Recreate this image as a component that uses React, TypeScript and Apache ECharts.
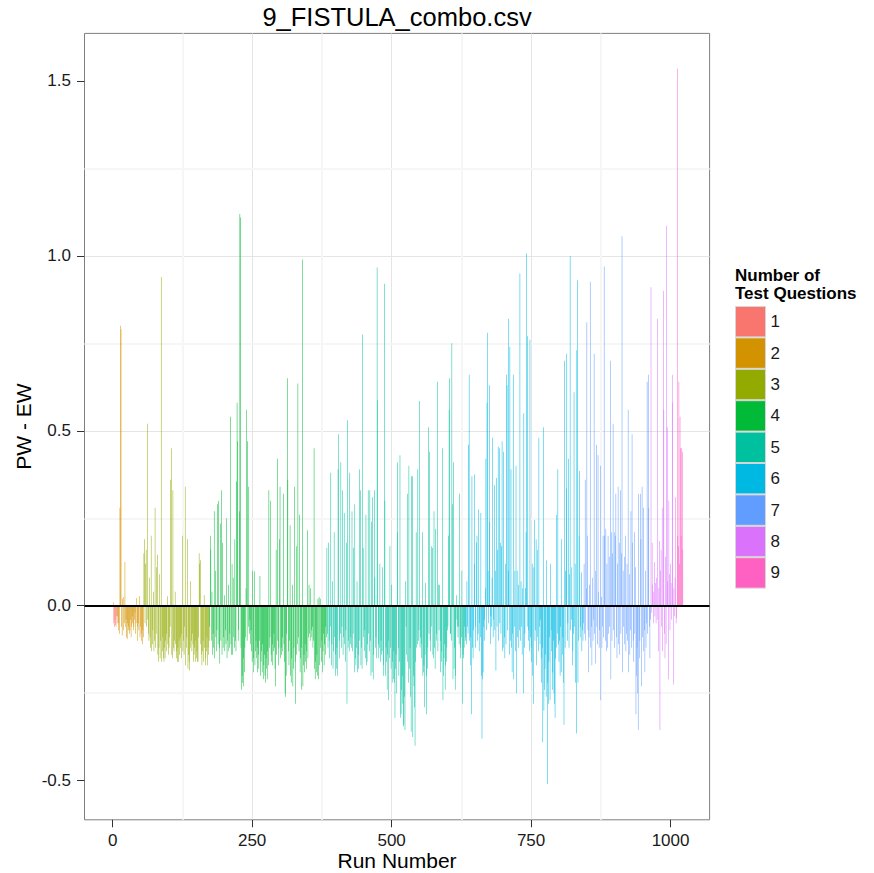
import React, { useEffect, useRef } from "react";
import * as echarts from "echarts";

const FONT = "'Liberation Sans', Arial, Helvetica, sans-serif";

const groupNames = ["1", "2", "3", "4", "5", "6", "7", "8", "9"];
const groupColors = ["#F8766D", "#D39200", "#93AA00", "#00BA38", "#00C19F", "#00B9E3", "#619CFF", "#DB72FB", "#FF61C3"];
const groupStarts = [1, 9, 56, 174, 384, 633, 844, 965, 1011];

const g1 = [0.01, -0.05, -0.06, -0.04, -0.055, -0.06, -0.03, -0.05];
const g2 = [
  -0.03, -0.07, -0.05, -0.08, 0.28, 0.80, 0.79, -0.06, -0.085, 0.02,
  -0.07, 0.025, -0.05, 0.125, -0.06, -0.04, -0.09, -0.095, -0.05, -0.07,
  -0.06, -0.08, -0.07, -0.04, -0.09, -0.06, -0.03, -0.05, -0.07, -0.06,
  -0.04, -0.02, -0.08, -0.05, 0.022, -0.1, -0.06, -0.05, -0.07, 0.028,
  -0.09, -0.06, -0.08, -0.1, -0.11, -0.07, -0.09,
];
const g3 = [
  0.15, 0.19, -0.05, 0.12, 0.16, -0.06, 0.52, -0.04, -0.08, -0.1,
  0.08, -0.09, -0.12, 0.2, -0.13, -0.11, -0.07, 0.04, -0.13, -0.1,
  0.28, -0.12, -0.08, 0.11, 0.146, -0.14, -0.16, -0.12, 0.09, -0.15,
  -0.1, 0.94, -0.16, -0.13, -0.09, -0.15, -0.16, -0.12, -0.15, -0.1,
  -0.08, -0.13, 0.027, -0.11, -0.14, -0.12, -0.09, -0.06, 0.36, 0.45,
  -0.14, -0.15, 0.33, -0.12, -0.13, -0.1, 0.04, -0.11, -0.15, -0.13,
  -0.16, -0.12, -0.16, -0.1, -0.14, -0.09, -0.12, -0.15, -0.08, 0.2,
  -0.13, -0.1, -0.14, -0.06, 0.34, -0.17, -0.12, -0.09, 0.19, -0.18,
  -0.14, -0.16, -0.185, -0.12, 0.07, -0.1, -0.13, -0.08, -0.11, -0.16,
  -0.14, -0.12, -0.16, -0.1, -0.15, -0.13, -0.16, -0.16, -0.09, 0.15,
  0.12, 0.13, -0.11, -0.14, -0.17, -0.13, -0.1, -0.16, 0.03, -0.12,
  -0.17, -0.15, -0.13, -0.09, -0.17, -0.12, -0.14, -0.1,
];
const g4 = [
  -0.06, 0.2, 0.16, -0.1, 0.04, -0.14, -0.08, -0.12, 0.27, -0.15,
  0.1, -0.09, -0.13, -0.07, 0.29, -0.11, 0.3, -0.12, -0.165, 0.235,
  -0.1, 0.33, -0.14, 0.18, -0.12, -0.09, 0.03, -0.13, -0.07, -0.11,
  0.25, -0.15, -0.1, -0.13, 0.06, -0.12, -0.08, 0.54, -0.11, -0.14,
  0.12, -0.14, 0.08, -0.09, -0.12, 0.19, -0.1, -0.13, 0.355, 0.58,
  0.47, -0.1, -0.07, 0.27, 1.12, 1.11, -0.12, -0.24, -0.2, -0.22,
  -0.15, -0.23, -0.19, -0.12, -0.09, 0.05, 0.56, -0.1, 0.47, -0.06,
  0.34, -0.08, -0.04, -0.11, -0.07, -0.13, -0.16, 0.1, -0.19, -0.15,
  0.098, -0.17, -0.13, -0.1, -0.15, -0.12, -0.19, -0.14, -0.18, -0.1,
  0.085, -0.2, -0.16, -0.13, -0.19, -0.11, -0.21, -0.17, -0.14, -0.2,
  -0.22, -0.15, -0.18, -0.21, -0.13, -0.17, 0.33, -0.12, -0.09, 0.3,
  -0.14, -0.16, -0.11, -0.17, -0.13, -0.08, -0.12, -0.18, -0.23, 0.16,
  -0.14, 0.42, -0.1, -0.17, -0.12, 0.19, 0.34, -0.15, -0.12, -0.14,
  -0.09, -0.13, 0.32, -0.11, -0.16, -0.25, -0.26, -0.2, -0.08, 0.65,
  0.36, -0.13, -0.17, -0.1, 0.23, -0.2, -0.22, -0.15, 0.06, -0.23,
  -0.18, -0.12, 0.34, -0.16, -0.28, -0.14, 0.17, -0.11, 0.635, -0.09,
  -0.13, 0.26, -0.19, -0.15, -0.12, -0.24, 0.99, -0.23, -0.17, -0.14,
  -0.19, -0.11, -0.16, -0.18, -0.13, 0.216, -0.15, -0.09, 0.06, -0.08,
  -0.1, 0.05, -0.07, -0.09, -0.06, -0.12, -0.1, 0.45, -0.18, -0.21,
  -0.16, -0.19, -0.14, -0.2, 0.02, -0.21, 0.025, -0.17, 0.02, -0.12,
  -0.16, -0.1, -0.19, -0.13, -0.08, -0.17, -0.11, -0.14, -0.06, -0.09,
];
const g5 = [
  0.166, -0.08, -0.12, 0.18, -0.1, -0.15, -0.06, 0.38, -0.17, -0.11,
  0.07, -0.18, -0.13, 0.21, -0.09, -0.2, -0.14, -0.18, -0.12, -0.2,
  0.39, 0.49, -0.1, -0.15, -0.08, 0.41, -0.12, -0.06, 0.33, -0.14,
  -0.09, 0.265, -0.11, -0.16, -0.07, 0.18, -0.28, 0.53, -0.12, -0.1,
  -0.13, 0.38, -0.11, -0.09, -0.12, 0.27, -0.13, -0.08, 0.166, -0.19,
  0.29, -0.15, -0.17, -0.12, 0.07, -0.19, -0.14, -0.18, 0.39, -0.1,
  0.33, -0.17, -0.12, -0.18, 0.775, 0.166, -0.09, -0.13, -0.07, -0.15,
  0.26, -0.17, -0.16, -0.11, 0.33, -0.08, -0.13, 0.33, -0.1, -0.2,
  0.24, -0.19, 0.31, -0.21, -0.14, 0.33, 0.08, -0.12, -0.09, -0.15,
  0.967, 0.587, -0.11, -0.15, -0.12, 0.12, -0.16, -0.1, -0.14, -0.13,
  0.11, -0.2, -0.17, 0.92, 0.3, -0.2, -0.12, -0.16, -0.24, -0.14,
  -0.27, -0.1, -0.15, 0.17, -0.12, -0.18, 0.06, -0.22, -0.16, -0.21,
  -0.13, -0.22, -0.32, -0.18, -0.14, -0.25, 0.21, 0.41, -0.12, -0.2,
  -0.16, 0.43, -0.32, -0.31, -0.24, -0.28, -0.2, -0.345, -0.34, -0.26,
  -0.355, 0.07, -0.06, -0.14, 0.32, -0.16, -0.22, 0.4, -0.18, -0.12,
  -0.26, -0.36, 0.37, 0.37, -0.375, -0.2, -0.23, -0.29, -0.4, -0.16,
  0.21, -0.12, -0.11, 0.39, -0.1, -0.07, 0.585, -0.12, -0.09, -0.11,
  -0.15, 0.21, -0.2, -0.19, -0.17, -0.29, -0.14, 0.065, -0.2, -0.31,
  -0.18, -0.12, 0.51, -0.08, 0.44, -0.1, -0.13, 0.17, -0.06, 0.166,
  -0.14, -0.15, 0.27, -0.12, -0.18, 0.22, -0.1, -0.08, 0.64, -0.13,
  0.06, -0.07, 0.06, -0.1, -0.19, -0.16, -0.13, 0.45, -0.27, -0.2,
  -0.15, -0.11, -0.24, -0.17, -0.16, -0.12, -0.07, -0.06, 0.2, 0.56,
  0.65, -0.08, -0.08, -0.1, 0.75, 0.29, -0.21, 0.41, -0.18, -0.12,
  -0.24, -0.2, 0.03, -0.04, -0.06, -0.09, -0.06, -0.11, 0.32, -0.15,
  -0.12, -0.09, 0.1, -0.28, -0.14, -0.15, -0.12, -0.06, -0.1,
];
const g6 = [
  -0.09, -0.11, 0.07, -0.06, -0.08, 0.46, 0.66, -0.1, -0.17, -0.09,
  -0.31, 0.37, -0.12, -0.15, -0.07, 0.12, 0.375, -0.12, -0.06, 0.18,
  0.2, -0.1, -0.08, 0.275, -0.13, -0.05, -0.09, 0.265, -0.2, -0.38,
  -0.21, -0.19, -0.06, -0.1, -0.04, 0.05, 0.42, -0.07, 0.58, 0.78,
  0.1, -0.05, 0.63, 0.24, -0.11, -0.03, -0.06, 0.08, 0.48, -0.09,
  -0.04, 0.345, -0.07, 0.1, -0.185, 0.365, -0.06, 0.16, 0.455, -0.1,
  0.45, -0.05, 0.18, -0.08, 0.17, 0.47, -0.13, -0.12, 0.44, -0.09,
  -0.15, 0.12, -0.11, 0.66, 0.63, -0.07, 0.1, 0.82, -0.14, 0.74,
  -0.1, 0.39, -0.12, -0.19, -0.08, 0.66, -0.21, -0.06, 0.1, -0.13,
  0.4, -0.25, 0.1, -0.09, 0.06, -0.12, -0.07, 0.95, -0.1, 0.07,
  -0.06, -0.14, 0.05, -0.25, 0.55, -0.12, -0.08, 0.05, 0.21, 1.007,
  -0.06, 0.77, -0.1, -0.07, -0.13, 0.76, -0.09, -0.12, -0.16, 0.12,
  -0.2, -0.28, 0.11, 0.245, -0.1, -0.07, 0.19, -0.17, 0.16, -0.09,
  -0.13, 0.48, -0.06, -0.11, -0.04, -0.15, -0.22, -0.12, -0.39, 0.51,
  -0.3, -0.24, -0.18, -0.14, -0.26, 0.13, -0.51, -0.22, -0.28, -0.16,
  -0.09, -0.27, 0.12, -0.07, -0.13, -0.24, -0.19, -0.1, -0.25, -0.28,
  -0.32, -0.15, -0.12, 0.26, -0.08, 0.39, -0.11, -0.16, -0.1, -0.2,
  -0.06, -0.19, 0.19, -0.14, -0.09, -0.22, -0.34, 0.7, -0.12, 0.1,
  0.335, 0.72, -0.1, -0.05, 0.42, -0.12, 0.09, 1.0, -0.07, -0.04,
  0.11, -0.17, -0.13, -0.08, 0.61, -0.06, 0.12, -0.22, -0.365, 0.73,
  0.93, -0.22, -0.1, 0.2, 0.385, -0.09, -0.06, 0.095, -0.13, -0.07,
  -0.1,
];
const g7 = [
  -0.05, 0.12, -0.08, 0.36, -0.1, 0.05, 0.81, 0.2, -0.07, -0.19,
  -0.09, 0.06, 0.926, -0.12, -0.06, -0.17, 0.08, -0.1, -0.04, 0.72,
  -0.08, -0.165, 0.1, 0.46, -0.06, -0.11, 0.43, 0.04, -0.12, -0.07,
  0.4, -0.27, 0.025, -0.12, -0.06, 0.2, -0.09, 0.97, 0.2, -0.1,
  0.22, -0.13, 0.12, -0.12, 0.2, -0.08, 0.14, -0.06, 0.7, -0.21,
  0.21, -0.1, 0.15, 0.52, -0.07, 0.21, -0.12, 0.2, 0.32, -0.09,
  -0.15, 0.12, 0.34, -0.11, 0.18, -0.14, 0.33, -0.08, 0.15, 1.056,
  -0.19, 0.1, -0.06, 0.14, -0.11, 0.2, -0.13, -0.08, 0.12, -0.1,
  0.56, -0.19, 0.09, -0.14, -0.07, 0.27, -0.12, 0.49, 0.18, -0.1,
  -0.16, 0.21, -0.08, 0.11, -0.31, -0.2, -0.12, -0.25, -0.355, 0.32,
  -0.15, -0.1, 0.32, 0.19, -0.23, 0.34, -0.09, -0.13, 0.28, -0.07,
  -0.19, 0.1, -0.12, -0.05, 0.64, -0.08, 0.66, 0.28, -0.06, -0.15,
  -0.04,
];
const g8 = [
  0.91, -0.02, 0.18, 0.06, -0.05, 0.04, 0.125, -0.03, 0.065, -0.05,
  0.08, -0.04, 0.82, -0.13, 0.05, 0.185, -0.355, 0.1, 0.16, -0.06,
  0.28, -0.13, 0.9, 0.56, -0.08, -0.15, 0.14, -0.11, 1.086, 0.51,
  0.07, -0.21, 0.3, 0.09, -0.07, 0.12, 0.065, -0.04, 0.66, 0.58,
  -0.225, 0.05, -0.03, 0.08, 0.31, -0.05,
];
const g9 = [-0.036, 1.535, 0.2, 0.17, 0.64, 0.12, 0.54, 0.45, 0.2, 0.45, 0.44, 0.16];

const groupValues = [g1, g2, g3, g4, g5, g6, g7, g8, g9];

const xTicks = [0, 250, 500, 750, 1000];
const yTicks = [-0.5, 0, 0.5, 1, 1.5];
const xMinor = [125, 375, 625, 875];
const yMinor = [-0.25, 0.25, 0.75, 1.25];

const X_MIN = -50.5;
const X_MAX = 1070;
const Y_MIN = -0.612;
const Y_MAX = 1.636;

const GRID_LEFT = 84.5;
const GRID_TOP = 33.4;
const GRID_W = 625.1;
const GRID_H = 786.4;

export default function App() {
  const ref = useRef<HTMLDivElement>(null);

  useEffect(() => {
    document.body.style.margin = "0";
    if (!ref.current) return;
    const chart = echarts.init(ref.current, undefined, { renderer: "svg" });

    const series = groupValues.map((vals, i) => {
      const s: any = {
        type: "bar",
        name: groupNames[i],
        data: vals.map((v, j) => [groupStarts[i] + j, v]),
        barWidth: 0.5,
        barMinWidth: 0.1,
        barGap: "-100%",
        itemStyle: { color: groupColors[i] },
        silent: true,
        z: 2,
      };
      if (i === 0) {
        s.markLine = {
          silent: true,
          symbol: "none",
          z: 1,
          label: { show: false },
          lineStyle: { color: "#f6f6f6", width: 2, type: "solid" },
          emphasis: { disabled: true },
          data: [
            ...xMinor.map((x) => ({ xAxis: x })),
            ...yMinor.map((y) => ({ yAxis: y })),
          ],
        };
      }
      if (i === 1) {
        s.markLine = {
          silent: true,
          symbol: "none",
          z: 6,
          label: { show: false },
          lineStyle: { color: "#000000", width: 2, type: "solid" },
          emphasis: { disabled: true },
          data: [{ yAxis: 0 }],
        };
      }
      return s;
    });

    const option: any = {
      animation: false,
      backgroundColor: "#ffffff",
      textStyle: { fontFamily: FONT },
      grid: {
        left: GRID_LEFT,
        top: GRID_TOP,
        width: GRID_W,
        height: GRID_H,
        show: true,
        borderColor: "#7f7f7f",
        borderWidth: 1,
        backgroundColor: "transparent",
        containLabel: false,
        outerBoundsMode: "none",
      },
      xAxis: {
        type: "value",
        min: X_MIN,
        max: X_MAX,
        minInterval: 250,
        maxInterval: 250,
        name: "Run Number",
        nameLocation: "middle",
        nameGap: 30,
        nameMoveOverlap: false,
        nameTextStyle: { fontSize: 21, color: "#000000", fontFamily: FONT },
        axisLine: { show: false, onZero: false },
        axisTick: { show: true, length: 7.5, lineStyle: { color: "#333333", width: 1 }, customValues: xTicks },
        axisLabel: {
          customValues: xTicks,
          margin: 12.5,
          fontSize: 17,
          color: "#1a1a1a",
          fontFamily: FONT,
          formatter: (v: number) => String(v),
        },
        splitLine: { show: true, showMinLine: false, showMaxLine: false, lineStyle: { color: "#e5e5e5", width: 1 } },
      },
      yAxis: {
        type: "value",
        min: Y_MIN,
        max: Y_MAX,
        minInterval: 0.5,
        maxInterval: 0.5,
        name: "PW - EW",
        nameLocation: "middle",
        nameGap: 51,
        nameMoveOverlap: false,
        nameRotate: 90,
        nameTextStyle: { fontSize: 21, color: "#000000", fontFamily: FONT },
        axisLine: { show: false, onZero: false },
        axisTick: { show: true, length: 7.5, lineStyle: { color: "#333333", width: 1 }, customValues: yTicks },
        axisLabel: {
          customValues: yTicks,
          margin: 13.5,
          fontSize: 17,
          color: "#1a1a1a",
          fontFamily: FONT,
          formatter: (v: number) => v.toFixed(1),
        },
        splitLine: { show: true, showMinLine: false, showMaxLine: false, lineStyle: { color: "#e5e5e5", width: 1 } },
      },
      legend: {
        orient: "vertical",
        left: 735,
        top: 306,
        padding: 0,
        itemGap: 0,
        itemWidth: 30,
        itemHeight: 30.4,
        icon: "rect",
        selectedMode: false,
        data: groupNames,
        itemStyle: { borderColor: "#d6d6d6", borderWidth: 1 },
        textStyle: { fontSize: 17, color: "#1a1a1a", fontFamily: FONT },
      },
      graphic: [
        {
          type: "text",
          x: GRID_LEFT + GRID_W / 2,
          y: 17,
          silent: true,
          style: {
            text: "9_FISTULA_combo.csv",
            fontSize: 25.5,
            fontFamily: FONT,
            fill: "#000000",
            align: "center",
            verticalAlign: "middle",
          },
        },
        {
          type: "text",
          x: 735,
          y: 266,
          silent: true,
          style: {
            text: "Number of\nTest Questions",
            fontSize: 17,
            fontWeight: "bold",
            lineHeight: 18,
            fontFamily: FONT,
            fill: "#000000",
            align: "left",
            verticalAlign: "top",
          },
        },
      ],
      series,
    };

    chart.setOption(option);
    return () => {
      chart.dispose();
    };
  }, []);

  return <div ref={ref} style={{ width: 874, height: 873 }} />;
}
